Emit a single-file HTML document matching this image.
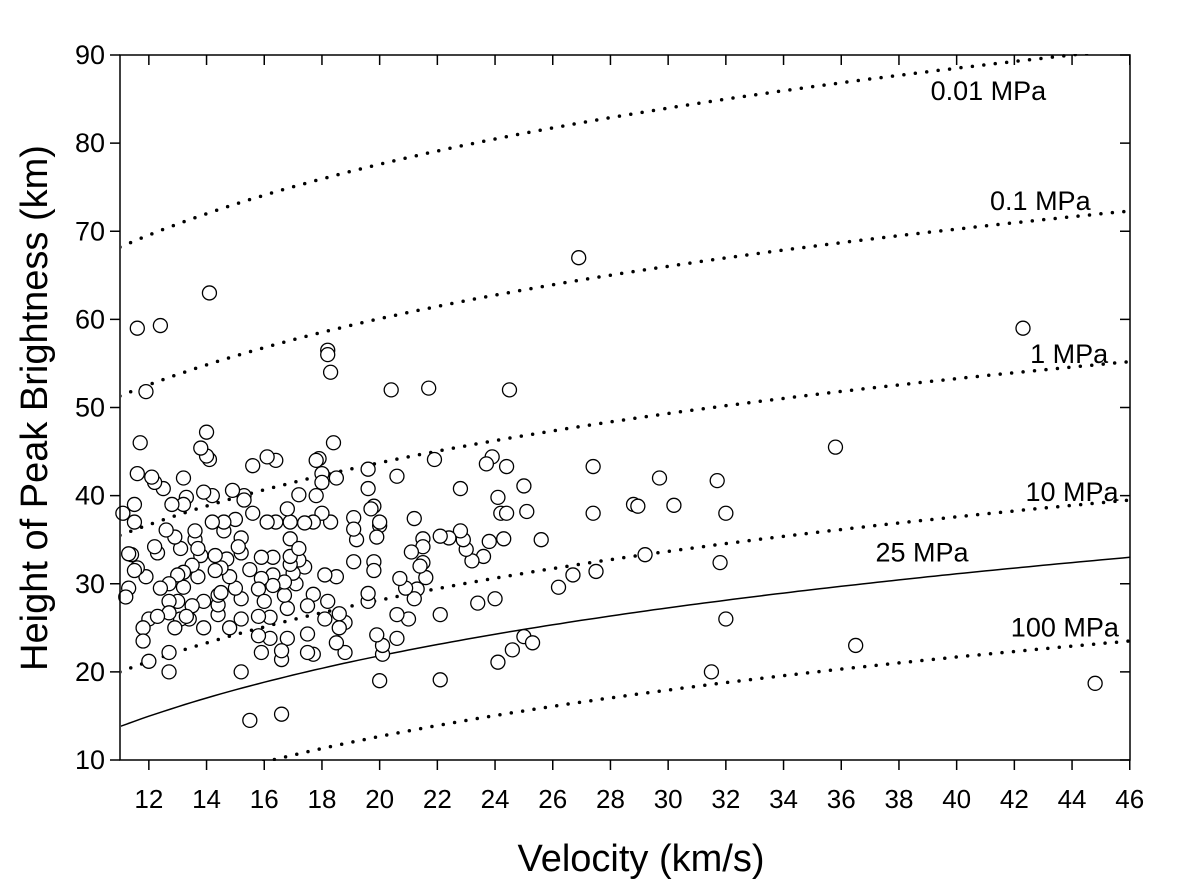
<!DOCTYPE html>
<html><head><meta charset="utf-8"><style>
body{margin:0;background:#fff}
svg{display:block;font-family:"Liberation Sans",Arial,sans-serif}
</style></head><body>
<svg id="chart" width="1184" height="881" xmlns="http://www.w3.org/2000/svg">
<defs><clipPath id="clip"><rect x="121" y="54" width="1010" height="707"/></clipPath></defs>
<g id="curves" clip-path="url(#clip)"></g>
<g id="pts"></g>
<g id="axes"></g>
</svg>
<script>
const xTicks=[12,14,16,18,20,22,24,26,28,30,32,34,36,38,40,42,44,46];
const yTicks=[10,20,30,40,50,60,70,80,90];
const curveNames=["0.01 MPa","0.1 MPa","1 MPa","10 MPa","25 MPa","100 MPa"];
const curveH11=[68.2,51.3,35.5,20.0,13.8,4.9];
const curveH46=[90.7,72.3,55.2,39.5,33.0,23.5];
const curveLabelV=[41.1,42.9,43.9,44.0,38.8,43.75];
const curveLabelH=[84.9,72.4,55.05,39.4,32.5,24.0];
const ptsX=[14.1,11.6,12.4,11.9,18.2,18.2,18.3,20.4,21.7,24.5,26.9,42.3,35.8,44.8,36.5,31.5,32,31.8,32,31.7,30.2,29.7,29.2,28.8,28.95,27.4,27.4,27.5,26.7,26.2,25.6,25.1,25,25,25.3,24.6,24.1,24,24.4,24.1,24.2,24.4,24.3,23.9,23.7,23.8,23.6,23.4,23.2,23,22.9,22.8,22.8,22.4,22.1,22.1,22.1,21.9,21.6,21.5,21.5,21.5,21.4,21.3,21.2,21.2,21.1,21,20.9,20.7,20.6,20.6,20.6,20.1,20.1,20,19.9,20,20,19.9,19.8,19.7,19.8,19.8,19.6,19.6,19.6,19.6,19.2,19.1,19.1,19.1,18.8,18.8,18.6,18.6,18.5,18.5,18.5,18.4,18.3,18.2,18.1,18.1,18,18,18,17.9,17.8,17.8,17.7,17.7,17.7,17.5,17.5,17.5,17.4,17.4,17.2,17.2,17.1,17,16.9,16.9,16.9,16.9,16.8,16.8,16.8,16.7,16.7,16.6,16.6,16.6,16.4,16.4,16.3,16.3,16.3,16.2,16.2,16.1,16.1,15.9,15.9,15.9,15.8,15.8,15.8,15.6,15.6,15.5,15.5,15.3,15.3,15.2,15.2,15.2,15.2,15.2,15.1,15,15,14.9,14.8,14.8,14.7,14.6,14.6,14.5,14.4,14.4,14.4,14.3,14.3,14.2,14.2,14.1,14,14,13.9,13.9,13.9,13.8,13.8,13.7,13.6,13.6,13.5,13.5,13.4,13.3,13.2,13.2,13.2,13.2,13.1,13.1,13,13,12.9,12.9,12.8,12.7,12.7,12.7,12.7,12.7,12.6,12.5,12.3,12.2,12.2,12.1,12,12,11.9,11.8,11.8,11.7,11.6,11.6,11.5,11.5,11.5,11.4,11.3,11.3,11.2,11.1,12.4,13.3,14.5,16,17.2,12.3,13.7];
const ptsY=[63,59,59.3,51.8,56.5,56,54,52,52.2,52,67,59,45.5,18.7,23,20,26,32.4,38,41.7,38.9,42,33.3,39,38.8,43.3,38,31.4,31,29.6,35,38.2,41.1,24,23.3,22.5,21.1,28.3,43.3,39.8,38,38,35.1,44.4,43.6,34.8,33.1,27.8,32.6,33.9,35,36,40.8,35.2,35.4,26.5,19.1,44.1,30.7,35.1,34.2,32.4,32,29.4,28.3,37.4,33.6,26,29.5,30.6,26.5,23.8,42.2,22,23,19,24.2,36.6,37,35.3,38.8,38.5,32.5,31.5,28,28.9,43,40.8,35,32.5,37.5,36.2,22.2,25.6,25,26.6,23.3,30.8,42,46,37,28,31,26,42.5,41.5,38,44.2,44,40,37,28.8,22,22.2,24.3,27.5,31.9,36.9,40.1,32.7,30,31.2,32.2,33.1,35.1,37,38.5,27.2,23.8,28.7,30.2,21.4,22.4,15.2,44,37,33,31,29.8,26.2,23.8,44.4,37,30.6,33,22.2,24.1,26.3,29.4,43.4,38,31.6,14.5,40,39.5,35.2,33.5,28.3,26,20,34.2,37.3,29.5,40.6,25,30.8,32.8,36,37,31.8,26.5,27.6,28.7,31.5,33.2,37,40,44.1,47.2,44.5,40.4,25,28,45.4,33.2,30.8,35,36,32.1,27.5,26,39.8,42,39,31.3,29.6,34,26,31,28,25,35.3,39,30,28,26.7,22.2,20,36.1,40.8,33.5,34.2,41.5,42.1,26,21.2,30.8,25,23.5,46,42.5,31.8,37,39,31.5,33.3,33.4,29.5,28.5,38,29.5,26.3,29,28,34,26.3,34];
const X0=120,XS=28.85,Y0=55,YS=8.8125;
function sx(v){return X0+(v-11)*XS}
function sy(h){return Y0+(90-h)*YS}
const NS="http://www.w3.org/2000/svg";
function mk(t,a,p){const e=document.createElementNS(NS,t);for(const k in a)e.setAttribute(k,a[k]);p.appendChild(e);return e}
const gc=document.getElementById('curves'),gp=document.getElementById('pts'),ga=document.getElementById('axes');
curveNames.forEach((n,i)=>{
  const k=(curveH46[i]-curveH11[i])/Math.log(46/11);
  let d="";
  for(let v=11;v<=46.001;v+=0.25){const h=curveH11[i]+k*Math.log(v/11);d+=(d?"L":"M")+sx(v).toFixed(1)+","+sy(h).toFixed(1)}
  const solid=n==="25 MPa";
  const p=mk('path',{d:d,fill:'none',stroke:'#000','stroke-width':solid?1.5:3.5,'stroke-linecap':'round','stroke-dasharray':solid?'none':'0 11.5'},gc);
  
  
  const t=mk('text',{x:sx(curveLabelV[i]),y:sy(curveLabelH[i]),'font-size':27,'text-anchor':'middle'},ga);
  t.textContent=n;
  
  
});
ptsX.forEach((x,i)=>{
  const c=mk('circle',{cx:sx(x),cy:sy(ptsY[i]),r:7,fill:'#fff',stroke:'#000','stroke-width':1.3},gp);
  
  
});
const frame=mk('rect',{x:X0,y:Y0,width:1010,height:705,fill:'none',stroke:'#000','stroke-width':1.5},ga);


yTicks.forEach(v=>{
  mk('line',{x1:X0-10,x2:X0,y1:sy(v),y2:sy(v),stroke:'#000','stroke-width':1.5},ga);
  mk('line',{x1:1130-10,x2:1130,y1:sy(v),y2:sy(v),stroke:'#000','stroke-width':1.5},ga);
  const t=mk('text',{x:X0-15,y:sy(v)+9,'font-size':27,'text-anchor':'end'},ga);
  t.textContent=v;
  
  
});
xTicks.forEach(v=>{
  mk('line',{x1:sx(v),x2:sx(v),y1:760,y2:770,stroke:'#000','stroke-width':1.5},ga);
  mk('line',{x1:sx(v),x2:sx(v),y1:55,y2:65,stroke:'#000','stroke-width':1.5},ga);
  const t=mk('text',{x:sx(v),y:808,'font-size':26,'text-anchor':'middle'},ga);
  t.textContent=v;
  
  
});
const xl=mk('text',{x:641,y:871,'font-size':38,'text-anchor':'middle'},ga);
xl.textContent="Velocity (km/s)";


const yl=mk('text',{x:0,y:0,'font-size':38,'text-anchor':'middle',transform:'translate(47,408) rotate(-90)'},ga);
yl.textContent="Height of Peak Brightness (km)";


</script>
</body></html>
